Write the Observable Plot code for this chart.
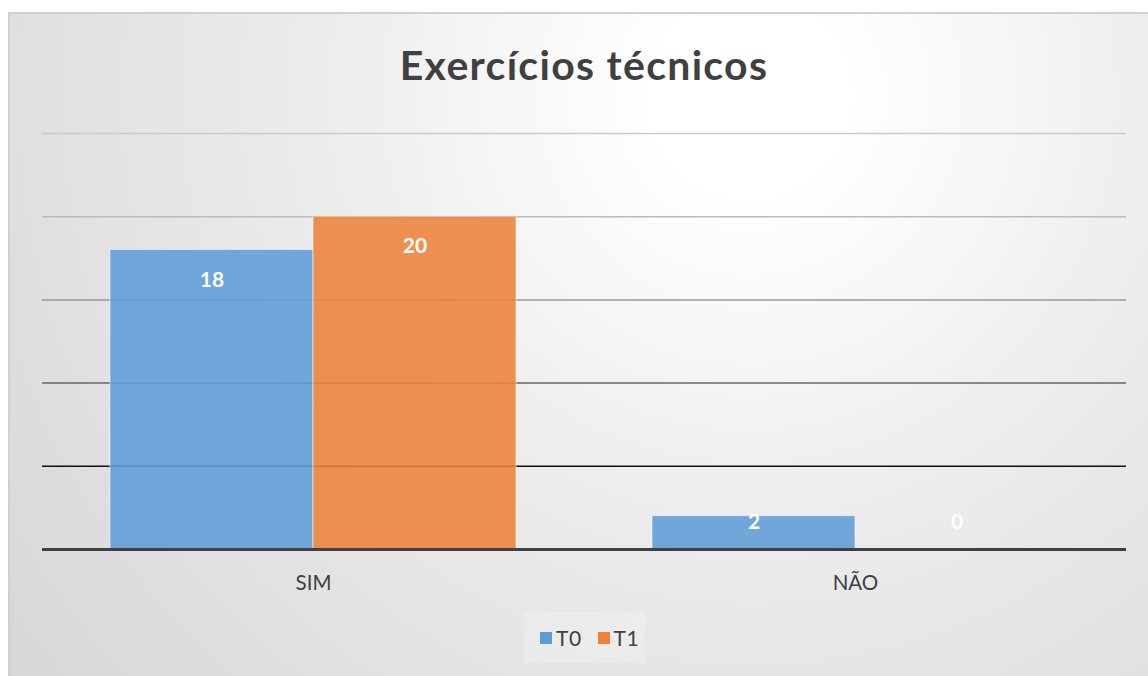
<!DOCTYPE html>
<html>
<head>
<meta charset="utf-8">
<script src="https://cdn.jsdelivr.net/npm/d3@7"></script>
<script src="https://cdn.jsdelivr.net/npm/@observablehq/plot@0.6"></script>
<style>
  html, body { margin: 0; padding: 0; background: #fff; }
  #frame {
    position: relative; width: 1148px; height: 676px; overflow: hidden;
    font-family: Lato, "Open Sans", sans-serif;
  }
  #panel {
    position: absolute; left: 8px; top: 12px; width: 1160px; height: 690px;
    box-sizing: border-box; border: 2px solid #d0d0d0;
    background: radial-gradient(circle farthest-corner at 64% 12%, #ffffff 0%, #ffffff 10%, #ececec 45%, #d6d6d6 100%);
  }
  #title {
    position: absolute; left: 0; width: 1168px; top: 37px; text-align: center;
    font-weight: 700; font-size: 41px; letter-spacing: 1.3px; color: #404040; line-height: 56px;
  }
  #chart { position: absolute; left: 0; top: 0; }
  #legend {
    position: absolute; left: 524px; top: 612px; width: 121px; height: 51px;
    box-sizing: border-box; padding-left: 16px;
    background: rgba(255,255,255,0.22);
    display: flex; align-items: center; justify-content: flex-start; gap: 16px;
    font-size: 21px; color: #404040; letter-spacing: 0.5px;
  }
  .item { display: flex; align-items: center; gap: 4px; }
  .sw { width: 12px; height: 12px; display: inline-block; }
</style>
</head>
<body>
<div id="frame">
  <div id="panel"></div>
  <div id="title">Exercícios técnicos</div>
  <div id="chart"></div>
  <div id="legend"></div>
</div>
<script>
// Answers per category, before (T0) and after (T1)
const categories = ["SIM", "NÃO"];
const series = ["T0", "T1"];
const valuesT0 = [18, 2];
const valuesT1 = [20, 0];
const gridTicks = [5, 10, 15, 20, 25];

const seriesValues = { T0: valuesT0, T1: valuesT1 };
const rows = series.flatMap(s =>
  categories.map((c, i) => ({ category: c, series: s, value: seriesValues[s][i] }))
);

const seriesColors = ["#5f9cd6", "#ed8239"];
// gridlines darken toward the baseline
const gridColors = ["#111111", "#666666", "#999999", "#bbbbbb", "#cacaca"];

const chart = Plot.plot({
  width: 1148,
  height: 676,
  marginLeft: 42,
  marginRight: 22,
  marginTop: 133,
  marginBottom: 127,
  style: { background: "transparent", fontFamily: "Lato, 'Open Sans', sans-serif" },
  fx: { domain: categories, padding: 0, label: null },
  x: { domain: series, paddingInner: 0, paddingOuter: 0.332, axis: null },
  y: { domain: [0, 25], axis: null },
  color: { domain: series, range: seriesColors },
  marks: [
    ...gridTicks.map((t, i) => Plot.ruleY([t], { stroke: gridColors[i], strokeWidth: 1.5 })),
    Plot.barY(rows, {
      fx: "category", x: "series", y: "value", fill: "series",
      fillOpacity: 0.88, stroke: "#ffffff", strokeOpacity: 0.55, strokeWidth: 1
    }),
    Plot.ruleY([0], { stroke: "#404040", strokeWidth: 3 }),
    // values inside the top of tall bars
    Plot.text(rows.filter(d => d.value >= 4), {
      fx: "category", x: "series", y: "value", text: d => String(d.value),
      dy: 30, fill: "white", fontWeight: "bold", fontSize: 21
    }),
    // values of short bars, kept above the baseline
    Plot.text(rows.filter(d => d.value < 4), {
      fx: "category", x: "series", y: () => 0, text: d => String(d.value),
      dy: -27, fill: "white", fontWeight: "bold", fontSize: 21
    }),
    Plot.axisFx({ anchor: "bottom", tickSize: 0, tickPadding: 26, fontSize: 20.5, fill: "#404040", label: null })
  ]
});
document.getElementById("chart").appendChild(chart);

const legend = document.getElementById("legend");
series.forEach((s, i) => {
  const item = document.createElement("span");
  item.className = "item";
  const sw = document.createElement("span");
  sw.className = "sw";
  sw.style.background = chart.scale("color").apply(s);
  item.appendChild(sw);
  item.appendChild(document.createTextNode(s));
  legend.appendChild(item);
});
</script>
</body>
</html>
